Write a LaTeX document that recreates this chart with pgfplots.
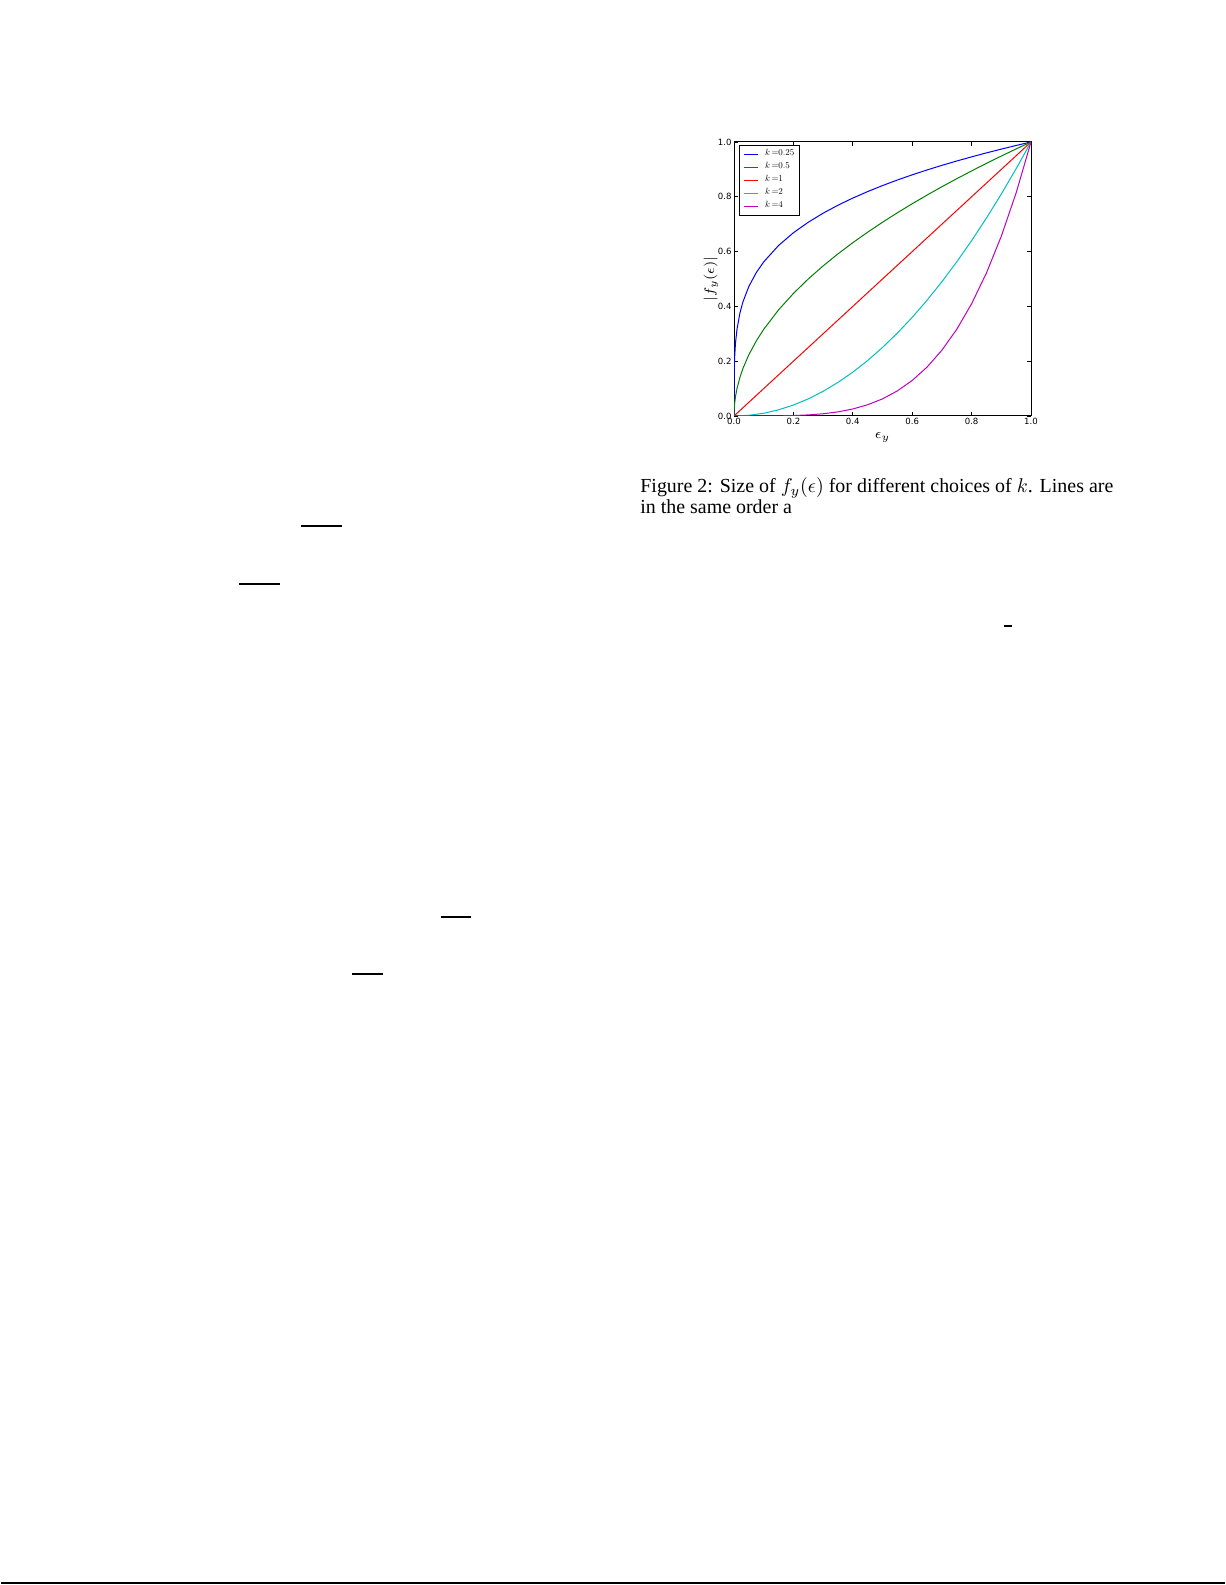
\documentclass[border=0pt]{standalone}
\usepackage{fontspec}
\setmainfont{Liberation Serif}
\newfontfamily\tickfont{DejaVu Sans}
\usepackage{graphicx}
\usepackage{pgfplots}
\pgfplotsset{compat=1.18}
\usepackage{pgfplotstable}

% values of |f_y(eps)|
\pgfplotstableread{
x y
0 0
0.0005 0.1495
0.002 0.2115
0.005 0.2659
0.01 0.3162
0.02 0.3761
0.03 0.4162
0.05 0.4729
0.075 0.5233
0.1 0.5623
0.15 0.6223
0.2 0.6687
0.25 0.7071
0.3 0.7401
0.35 0.7692
0.4 0.7953
0.45 0.8190
0.5 0.8409
0.55 0.8612
0.6 0.8801
0.65 0.8979
0.7 0.9147
0.75 0.9306
0.8 0.9457
0.85 0.9602
0.9 0.9740
0.95 0.9873
1 1
}\kquarter
\pgfplotstableread{
x y
0 0
0.0005 0.0224
0.002 0.0447
0.005 0.0707
0.01 0.1
0.02 0.1414
0.03 0.1732
0.05 0.2236
0.075 0.2739
0.1 0.3162
0.15 0.3873
0.2 0.4472
0.25 0.5
0.3 0.5477
0.35 0.5916
0.4 0.6325
0.45 0.6708
0.5 0.7071
0.55 0.7416
0.6 0.7746
0.65 0.8062
0.7 0.8367
0.75 0.8660
0.8 0.8944
0.85 0.9220
0.9 0.9487
0.95 0.9747
1 1
}\khalf
\pgfplotstableread{
x y
0 0
1 1
}\kone
\pgfplotstableread{
x y
0 0
0.05 0.0025
0.1 0.01
0.15 0.0225
0.2 0.04
0.25 0.0625
0.3 0.09
0.35 0.1225
0.4 0.16
0.45 0.2025
0.5 0.25
0.55 0.3025
0.6 0.36
0.65 0.4225
0.7 0.49
0.75 0.5625
0.8 0.64
0.85 0.7225
0.9 0.81
0.95 0.9025
1 1
}\ktwo
\pgfplotstableread{
x y
0 0
0.05 0.0000063
0.1 0.0001
0.15 0.0005
0.2 0.0016
0.25 0.0039
0.3 0.0081
0.35 0.0150
0.4 0.0256
0.45 0.0410
0.5 0.0625
0.55 0.0915
0.6 0.1296
0.65 0.1785
0.7 0.2401
0.75 0.3164
0.8 0.4096
0.85 0.5220
0.9 0.6561
0.95 0.8145
1 1
}\kfour

\definecolor{mplb}{rgb}{0,0,1}
\definecolor{mplg}{rgb}{0,0.5,0}
\definecolor{mplr}{rgb}{1,0,0}
\definecolor{mplc}{rgb}{0,0.75,0.75}
\definecolor{mplm}{rgb}{0.75,0,0.75}

\newcommand{\leg}[1]{\scalebox{0.45}{$k\,{=}#1$}}

\begin{document}
\begin{tikzpicture}
\path[fill=white] (0,0) rectangle (612.5bp,792.5bp);

\begin{axis}[
    at={(366.5bp,584.5bp)}, anchor=south west,
    scale only axis,
    width=148.5bp, height=137bp,
    xmin=0, xmax=1, ymin=0, ymax=1,
    xtick={0,0.2,0.4,0.6,0.8,1}, ytick={0,0.2,0.4,0.6,0.8,1},
    xticklabels={0.0,0.2,0.4,0.6,0.8,1.0},
    yticklabels={0.0,0.2,0.4,0.6,0.8,1.0},
    tick align=inside, tick pos=both,
    major tick length=2bp,
    axis line style={line width=0.5bp},
    tick style={line width=0.4bp, black},
    ticklabel style={font=\tickfont\fontsize{4.3}{5}\selectfont, inner sep=1bp},
    xlabel={$\epsilon_y$}, ylabel={$|f_y(\epsilon)|$},
    label style={font=\fontsize{7.5}{8}\selectfont},
    xlabel style={yshift=0.5bp},
    ylabel style={yshift=-4.5bp},
    legend style={at={(rel axis cs:0.017,0.989)}, anchor=north west,
        draw=black, line width=0.4bp, font=\fontsize{10}{10}\selectfont,
        inner xsep=1.8bp, inner ysep=1.6bp, row sep=0.9bp, column sep=3bp,
        nodes={inner sep=0.5bp},
        cells={anchor=west}},
    legend image code/.code={\draw[#1, line width=0.5bp] (0bp,0bp) -- (7bp,0bp);},
    every axis plot/.append style={line width=0.5bp},
]
\addplot[color=mplb] table {\kquarter};
\addlegendentry{\leg{0.25}}
\addplot[color=mplg] table {\khalf};
\addlegendentry{\leg{0.5}}
\addplot[color=mplr] table {\kone};
\addlegendentry{\leg{1}}
\addplot[color=mplc] table {\ktwo};
\addlegendentry{\leg{2}}
\addplot[color=mplm] table {\kfour};
\addlegendentry{\leg{4}}
\end{axis}

% caption
\node[anchor=base west, inner sep=0pt, font=\fontsize{10}{11}\selectfont] at (319.5bp,546.2bp)
  {\makebox[236.5bp][s]{Figure 2: Size of $f_y(\epsilon)$ for different choices of $k$. Lines are}};
\node[anchor=base west, inner sep=0pt, font=\fontsize{10}{11}\selectfont] at (319.5bp,535.6bp)
  {in the same order a};

% leftover rules of the page
\draw[line width=0.8bp] (150bp,529.5bp) -- (170.5bp,529.5bp);
\draw[line width=0.8bp] (119bp,500.5bp) -- (139.5bp,500.5bp);
\draw[line width=0.8bp] (220bp,334bp) -- (235bp,334bp);
\draw[line width=0.8bp] (175.5bp,305.5bp) -- (191bp,305.5bp);
\draw[line width=0.8bp] (501.5bp,479.5bp) -- (505.5bp,479.5bp);
\draw[line width=1bp] (0bp,1bp) -- (612bp,1bp);
\end{tikzpicture}
\end{document}
